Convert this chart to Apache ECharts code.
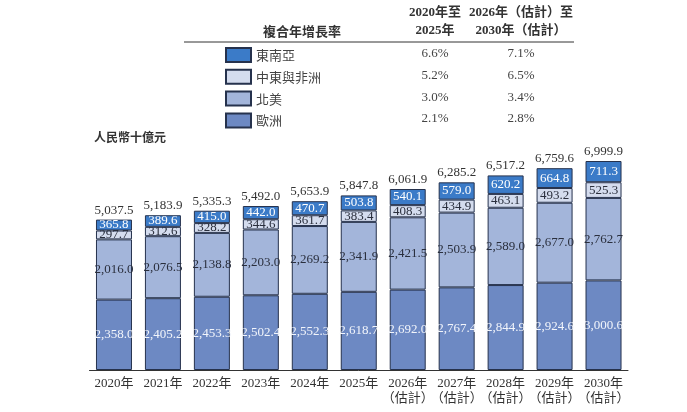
<!DOCTYPE html>
<html>
<head>
<meta charset="utf-8">
<script src="https://cdn.jsdelivr.net/npm/echarts@6/dist/echarts.min.js"></script>
<style>
html,body{margin:0;padding:0;background:#fff;}
#chart{width:687px;height:412px;}
</style>
</head>
<body>
<div id="chart"></div>
<script>
// 年份
var years = ['2020年', '2021年', '2022年', '2023年', '2024年', '2025年',
	'2026年\n（估計）', '2027年\n（估計）', '2028年\n（估計）', '2029年\n（估計）', '2030年\n（估計）'];
// 各地區（人民幣十億元）
var europe = [2358.0, 2405.2, 2453.3, 2502.4, 2552.3, 2618.7, 2692.0, 2767.4, 2844.9, 2924.6, 3000.6];
var northAmerica = [2016.0, 2076.5, 2138.8, 2203.0, 2269.2, 2341.9, 2421.5, 2503.9, 2589.0, 2677.0, 2762.7];
var middleEastAfrica = [297.7, 312.6, 328.2, 344.6, 361.7, 383.4, 408.3, 434.9, 463.1, 493.2, 525.3];
var southeastAsia = [365.8, 389.6, 415.0, 442.0, 470.7, 503.8, 540.1, 579.0, 620.2, 664.8, 711.3];
var totals = [5037.5, 5183.9, 5335.3, 5492.0, 5653.9, 5847.8, 6061.9, 6285.2, 6517.2, 6759.6, 6999.9];
// 複合年增長率
var regionNames = ['東南亞', '中東與非洲', '北美', '歐洲'];
var cagr2020 = ['6.6%', '5.2%', '3.0%', '2.1%'];
var cagr2026 = ['7.1%', '6.5%', '3.4%', '2.8%'];

var colors = {
	'東南亞': '#3b7bc8',
	'中東與非洲': '#d4dcee',
	'北美': '#a3b5da',
	'歐洲': '#6d89c3'
};
var serif = '"Liberation Serif", "Noto Sans CJK TC", serif';

function fmt(v) {
	return v.toLocaleString('en-US', {minimumFractionDigits: 1, maximumFractionDigits: 1});
}

function makeSeries(name, data, labelColor) {
	return {
		name: name,
		type: 'bar',
		stack: 'total',
		barWidth: 36,
		data: data,
		itemStyle: {color: colors[name], borderColor: '#26324d', borderWidth: 1},
		label: {
			show: true,
			position: 'inside',
			color: labelColor,
			fontFamily: serif,
			fontSize: 13,
			formatter: function(p) { return fmt(p.value); }
		}
	};
}

var myChart = echarts.init(document.getElementById('chart'));

// 表頭和CAGR數字
function txt(x, y, s, font, fill) {
	return {type: 'text', x: x, y: y, style: {text: s, font: font, fill: fill || '#333', align: 'center', verticalAlign: 'middle'}};
}
var graphics = [
	txt(302, 31, '複合年增長率', 'bold 13px "Noto Sans CJK TC"'),
	txt(435, 13, '2020年至', 'bold 13px ' + serif),
	txt(435, 31, '2025年', 'bold 13px ' + serif),
	txt(521, 13, '2026年（估計）至', 'bold 13px ' + serif),
	txt(521, 31, '2030年（估計）', 'bold 13px ' + serif),
	{type: 'line', shape: {x1: 184, y1: 42, x2: 574, y2: 42}, style: {stroke: '#333', lineWidth: 1}},
	txt(130, 137, '人民幣十億元', 'bold 12px "Noto Sans CJK TC"')
];
var rowY = [54, 76, 98, 119];
regionNames.forEach(function(n, i) {
	graphics.push(txt(435, rowY[i], cagr2020[i], '13px ' + serif, '#444'));
	graphics.push(txt(521, rowY[i], cagr2026[i], '13px ' + serif, '#444'));
});

var option = {
	animation: false,
	backgroundColor: '#fff',
	grid: {left: 89.5, right: 59, top: 161, bottom: 42},
	legend: {
		orient: 'vertical',
		left: 225,
		top: 47,
		padding: 0,
		icon: 'rect',
		itemWidth: 25,
		itemHeight: 14,
		itemGap: 5.8,
		data: regionNames,
		textStyle: {fontFamily: '"Noto Sans CJK TC"', fontSize: 13, lineHeight: 14, color: '#444'},
		selectedMode: false
	},
	graphic: graphics,
	xAxis: {
		type: 'category',
		data: years,
		axisTick: {show: false},
		axisLine: {lineStyle: {color: '#333', width: 1}},
		axisLabel: {fontFamily: serif, fontSize: 13, color: '#333', margin: 6, lineHeight: 15, interval: 0}
	},
	yAxis: {type: 'value', min: 0, max: 7000, show: false, splitLine: {show: false}},
	series: [
		makeSeries('歐洲', europe, '#f2f5fb'),
		makeSeries('北美', northAmerica, '#2a2f3d'),
		makeSeries('中東與非洲', middleEastAfrica, '#2a2f3d'),
		makeSeries('東南亞', southeastAsia, '#ffffff'),
		{
			name: '總計',
			type: 'bar',
			stack: 'total',
			barWidth: 36,
			data: totals.map(function() { return 0; }),
			itemStyle: {color: 'transparent'},
			label: {
				show: true,
				position: 'top',
				distance: 3,
				color: '#333',
				fontFamily: serif,
				fontSize: 13,
				formatter: function(p) { return fmt(totals[p.dataIndex]); }
			}
		}
	]
};
myChart.setOption(option);
</script>
</body>
</html>
